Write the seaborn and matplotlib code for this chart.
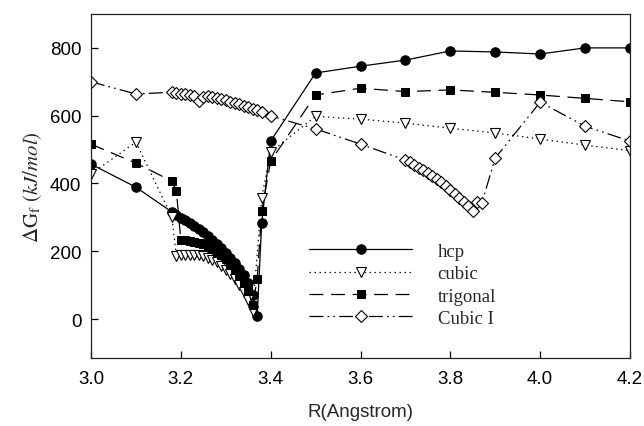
import numpy as np
import pandas as pd
import matplotlib
matplotlib.use("Agg")
import matplotlib.pyplot as plt
import seaborn as sns

# ---------------- data ----------------
hcp_x = [3.00, 3.10, 3.18, 3.19, 3.20, 3.21, 3.22, 3.23, 3.24, 3.25, 3.26, 3.27, 3.28,
         3.29, 3.30, 3.31, 3.32, 3.33, 3.34, 3.35, 3.36, 3.37, 3.38, 3.40, 3.50, 3.60,
         3.70, 3.80, 3.90, 4.00, 4.10, 4.20]
hcp_y = [457, 389, 316, 307, 299, 291, 283, 275, 266, 256, 245, 233, 221,
         209, 196, 181, 166, 149, 129, 105, 70, 8, 283, 525, 726, 746,
         764, 791, 788, 782, 800, 800]

cubic_x = [3.00, 3.10, 3.18, 3.19, 3.20, 3.21, 3.22, 3.23, 3.24, 3.25, 3.26, 3.27, 3.28,
           3.29, 3.30, 3.31, 3.32, 3.33, 3.34, 3.35, 3.36, 3.38, 3.40, 3.50, 3.60,
           3.70, 3.80, 3.90, 4.00, 4.10, 4.20]
cubic_y = [428, 522, 301, 186, 188, 189, 190, 190, 189, 186, 181, 175, 167,
           157, 146, 133, 118, 100, 80, 57, 25, 358, 493, 598, 590,
           578, 563, 549, 531, 513, 497]

trig_x = [3.00, 3.10, 3.18, 3.19, 3.20, 3.21, 3.22, 3.23, 3.24, 3.25, 3.26, 3.27, 3.28,
          3.29, 3.30, 3.31, 3.32, 3.33, 3.34, 3.35, 3.36, 3.37, 3.38, 3.40, 3.50,
          3.60, 3.70, 3.80, 3.90, 4.00, 4.10, 4.20]
trig_y = [516, 460, 407, 378, 233, 232, 230, 228, 225, 221, 215, 208, 199,
          189, 177, 163, 148, 130, 110, 82, 40, 118, 318, 466, 661,
          681, 671, 676, 669, 661, 651, 641]

cubicI_x = [3.00, 3.10, 3.18, 3.19, 3.20, 3.21, 3.22, 3.23, 3.24, 3.25, 3.26, 3.27,
            3.28, 3.29, 3.30, 3.31, 3.32, 3.33, 3.34, 3.35, 3.36, 3.37, 3.38, 3.40,
            3.50, 3.60, 3.70, 3.71, 3.72, 3.73, 3.74, 3.75, 3.76, 3.77, 3.78, 3.79,
            3.80, 3.81, 3.82, 3.83, 3.84, 3.85, 3.86, 3.87, 3.90, 4.00, 4.10, 4.20]
cubicI_y = [700, 664, 669, 667, 665, 663, 661, 659, 642, 655, 659, 655,
            652, 649, 645, 641, 637, 633, 629, 625, 620, 616, 611, 599,
            561, 516, 469, 462, 455, 447, 440, 431, 422, 413, 403, 393,
            382, 370, 358, 346, 334, 320, 346, 342, 475, 640, 569, 525]

series_labels = ["hcp", "cubic", "trigonal", "Cubic I"]
x_ticks = [3.0, 3.2, 3.4, 3.6, 3.8, 4.0, 4.2]
y_ticks = [0, 200, 400, 600, 800]

# ---------------- style ----------------
sns.set_style("ticks")
plt.rcParams["font.family"] = ["Liberation Sans", "DejaVu Sans"]
plt.rcParams["mathtext.fontset"] = "stix"
plt.rcParams["lines.scale_dashes"] = False

fig = plt.figure(figsize=(6.44, 4.27), dpi=100)
ax = fig.add_axes([91 / 644, 1 - 359 / 427, 539 / 644, 344 / 427])

specs = [
    (hcp_x, hcp_y, dict(marker="o", markersize=6.8, markerfacecolor="black",
                        markeredgecolor="black", linestyle="-")),
    (cubic_x, cubic_y, dict(marker="v", markersize=7, markerfacecolor="white",
                            markeredgecolor="black", markeredgewidth=0.8,
                            linestyle=(0, (1, 2.6)))),
    (trig_x, trig_y, dict(marker="s", markersize=5.6, markerfacecolor="black",
                          markeredgecolor="black", linestyle=(0, (10, 5.5)))),
    (cubicI_x, cubicI_y, dict(marker="D", markersize=6, markerfacecolor="white",
                              markeredgecolor="black", markeredgewidth=0.8,
                              linestyle=(0, (10, 3, 1.2, 3, 1.2, 3)))),
]

for (xs, ys, kw), lab in zip(specs, series_labels):
    df = pd.DataFrame({"R": xs, "G": ys})
    sns.lineplot(data=df, x="R", y="G", ax=ax, color="black", linewidth=0.9,
                 estimator=None, sort=False, label=lab, **kw)

ax.set_xlim(3.0, 4.2)
ax.set_ylim(-115, 900)
ax.set_xticks(x_ticks)
ax.set_xticklabels([f"{t:.1f}" for t in x_ticks])
ax.set_yticks(y_ticks)
ax.tick_params(axis="x", pad=9)
ax.tick_params(direction="in", length=5, width=0.9, labelsize=13.5,
               top=False, right=False, colors="black")
ax.tick_params(axis="y", pad=7)
for sp in ax.spines.values():
    sp.set_visible(True)
    sp.set_linewidth(0.9)
    sp.set_color("#222222")

ax.set_xlabel("R(Angstrom)", fontsize=13.5, labelpad=11)
ax.set_ylabel(r"$\Delta\mathrm{G}_{\mathrm{f}}\ (kJ/mol)$", fontsize=15, labelpad=4)

leg = ax.legend(loc="upper left", bbox_to_anchor=(0.405, 0.335), frameon=False,
                handlelength=5.5, handletextpad=1.35, labelspacing=0.28,
                borderpad=0, borderaxespad=0, numpoints=1,
                prop={"family": "Liberation Serif", "size": 13.5})

fig.savefig("out.png", dpi=100)
